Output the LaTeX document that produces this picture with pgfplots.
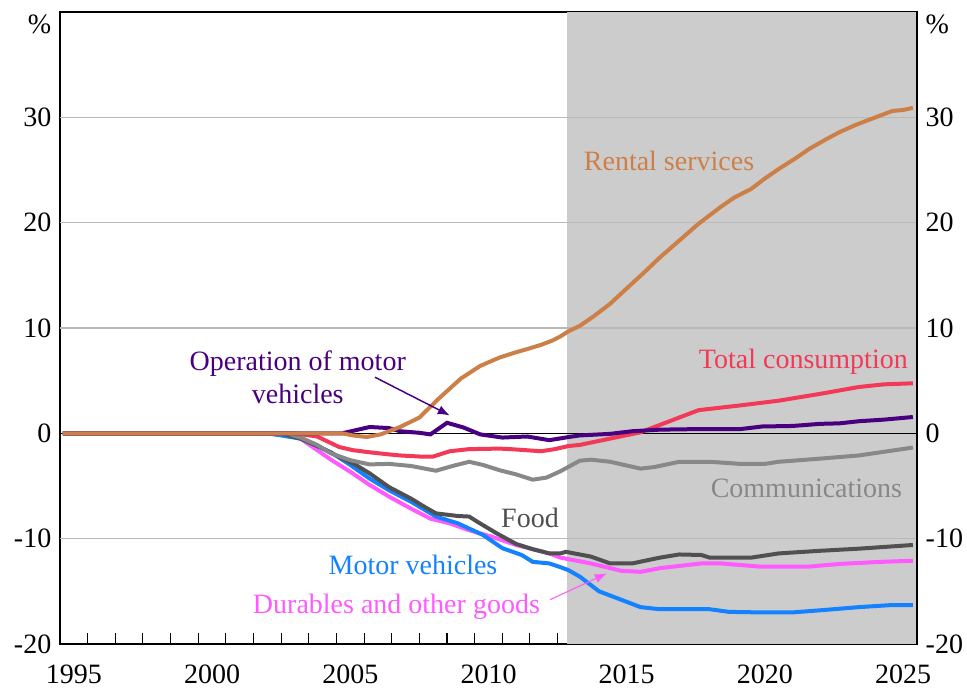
\documentclass[border=0pt]{standalone}
\usepackage{pgfplots}
\pgfplotsset{compat=1.18}
\usepackage{fontspec}
\setmainfont{Liberation Serif}
\usetikzlibrary{arrows.meta,calc}
\definecolor{rental}{RGB}{204,128,72}
\definecolor{oper}{RGB}{72,0,128}
\definecolor{total}{RGB}{242,58,88}
\definecolor{comm}{RGB}{136,136,136}
\definecolor{food}{RGB}{80,80,80}
\definecolor{dur}{RGB}{255,90,255}
\definecolor{motor}{RGB}{20,130,255}
\definecolor{shadegray}{RGB}{204,204,204}
\definecolor{gridc}{RGB}{185,185,185}
\begin{document}
\begin{tikzpicture}[font=\fontsize{21}{25}\selectfont]
\begin{axis}[name=ax,
  width=642.75pt, height=474pt, scale only axis,
  xmin=1995, xmax=2026, ymin=-20, ymax=40,
  axis line style={black, line width=0.9pt},
  xtick={1995,...,2026}, xticklabels={},
  xtick pos=bottom, tick align=inside,
  x tick style={black, line width=0.8pt}, major tick length=8pt,
  extra x ticks={1995.5,2000.5,2005.5,2010.5,2015.5,2020.5,2025.5},
  extra x tick labels={1995,2000,2005,2010,2015,2020,2025},
  extra x tick style={major tick length=0pt, xticklabel style={yshift=-12pt}},
  ytick={-20,-10,0,10,20,30,38.8},
  yticklabels={-20,-10,0,10,20,30,\%},
  ytick pos=left, y tick style={draw=none},
  yticklabel style={xshift=-3pt},
  clip=true,
]
\fill[shadegray] (axis cs:2013.35,-20) rectangle (axis cs:2026,40);
\draw[gridc, line width=0.8pt] (axis cs:1995,-10) -- (axis cs:2026,-10);
\draw[gridc, line width=0.8pt] (axis cs:1995,10) -- (axis cs:2026,10);
\draw[gridc, line width=0.8pt] (axis cs:1995,20) -- (axis cs:2026,20);
\draw[gridc, line width=0.8pt] (axis cs:1995,30) -- (axis cs:2026,30);
\draw[black, line width=0.8pt] (axis cs:1995,0) -- (axis cs:2026,0);

% Durables and other goods
\addplot[dur, line width=3pt] coordinates {
(1995.1,0) (2002.8,0) (2003.7,-0.5) (2004.8,-2.5) (2005.5,-3.65) (2006.2,-4.9) (2006.9,-6.0) (2007.7,-7.15) (2008.4,-8.1) (2009.1,-8.55) (2009.8,-9.2) (2010.6,-9.8) (2011.5,-10.6) (2012.7,-11.4) (2013.1,-11.8) (2014.2,-12.35) (2015.3,-13.05) (2016.0,-13.15) (2016.7,-12.8) (2018.2,-12.35) (2018.9,-12.35) (2020.3,-12.65) (2022.1,-12.65) (2023.2,-12.4) (2024.7,-12.2) (2025.85,-12.1)};
% Motor vehicles
\addplot[motor, line width=3pt] coordinates {
(1995.1,0) (2002.5,0) (2003.0,-0.2) (2003.7,-0.5) (2004.8,-1.8) (2005.5,-3.0) (2006.2,-4.3) (2006.9,-5.4) (2007.7,-6.5) (2008.6,-7.9) (2009.4,-8.55) (2010.3,-9.65) (2011.0,-10.9) (2011.7,-11.55) (2012.1,-12.2) (2012.7,-12.35) (2013.1,-12.7) (2013.4,-13.0) (2013.8,-13.6) (2014.5,-15.0) (2015.3,-15.8) (2016.0,-16.5) (2016.7,-16.7) (2018.5,-16.7) (2019.2,-16.95) (2020.3,-17.0) (2021.5,-17.0) (2022.5,-16.8) (2023.9,-16.5) (2025.1,-16.3) (2025.85,-16.3)};
% Food
\addplot[food, line width=3pt] coordinates {
(1995.1,0) (2003.0,0) (2003.7,-0.5) (2004.4,-1.3) (2005.1,-2.25) (2005.7,-3.0) (2006.2,-3.8) (2006.9,-5.1) (2007.7,-6.2) (2008.2,-7.0) (2008.6,-7.6) (2009.4,-7.85) (2009.8,-7.9) (2010.1,-8.4) (2010.8,-9.5) (2011.5,-10.5) (2012.1,-11.0) (2012.7,-11.4) (2013.1,-11.4) (2013.3,-11.25) (2014.2,-11.7) (2014.9,-12.35) (2015.7,-12.35) (2016.7,-11.8) (2017.4,-11.5) (2018.2,-11.55) (2018.5,-11.8) (2020.0,-11.8) (2021.0,-11.4) (2022.5,-11.15) (2023.9,-10.95) (2025.85,-10.6)};
% Communications
\addplot[comm, line width=3pt] coordinates {
(1995.1,0) (2003.2,0) (2003.7,-0.4) (2004.3,-1.1) (2004.8,-1.9) (2005.5,-2.55) (2006.2,-2.95) (2006.9,-2.9) (2007.7,-3.1) (2008.6,-3.55) (2009.2,-3.1) (2009.8,-2.7) (2010.3,-3.0) (2010.9,-3.5) (2011.5,-3.9) (2012.1,-4.4) (2012.6,-4.2) (2013.1,-3.6) (2013.8,-2.6) (2014.2,-2.5) (2014.9,-2.7) (2016.0,-3.35) (2016.5,-3.2) (2017.4,-2.7) (2018.5,-2.7) (2019.6,-2.9) (2020.5,-2.9) (2021.0,-2.7) (2022.5,-2.4) (2023.9,-2.1) (2025.85,-1.35)};
% Total consumption
\addplot[total, line width=3pt] coordinates {
(1995.1,0) (2003.5,0) (2004.3,-0.3) (2005.1,-1.3) (2005.6,-1.6) (2006.2,-1.8) (2006.9,-2.0) (2007.3,-2.1) (2008.0,-2.2) (2008.5,-2.2) (2009.1,-1.7) (2009.8,-1.5) (2010.9,-1.45) (2011.3,-1.5) (2012.4,-1.7) (2012.9,-1.5) (2013.4,-1.2) (2013.8,-1.1) (2014.9,-0.5) (2016.0,0.1) (2017.1,1.2) (2018.1,2.2) (2019.6,2.65) (2021.0,3.1) (2022.5,3.75) (2023.9,4.4) (2024.8,4.65) (2025.85,4.75)};
% Operation of motor vehicles
\addplot[oper, line width=3pt] coordinates {
(1995.1,0) (2005.2,0) (2005.7,0.3) (2006.2,0.6) (2006.9,0.5) (2007.3,0.2) (2008.0,0.05) (2008.4,-0.1) (2009.0,1.0) (2009.6,0.55) (2010.2,-0.1) (2011.0,-0.4) (2011.9,-0.3) (2012.7,-0.65) (2013.4,-0.35) (2013.8,-0.2) (2014.9,-0.05) (2015.7,0.2) (2016.7,0.35) (2018.0,0.4) (2019.6,0.4) (2020.4,0.65) (2021.5,0.7) (2022.5,0.9) (2023.2,0.95) (2023.9,1.15) (2024.8,1.3) (2025.85,1.55)};
% Rental services
\addplot[rental, line width=3pt] coordinates {
(1995.1,0) (2003,0) (2005.2,0) (2005.6,-0.2) (2006.1,-0.35) (2006.6,-0.1) (2007.3,0.6) (2008.0,1.5) (2008.7,3.3) (2009.5,5.2) (2010.2,6.4) (2010.9,7.2) (2011.5,7.7) (2011.9,8.0) (2012.4,8.4) (2012.8,8.8) (2013.1,9.2) (2013.4,9.7) (2013.8,10.2) (2014.3,11.1) (2014.9,12.3) (2015.6,14.0) (2016.1,15.2) (2016.7,16.7) (2017.4,18.3) (2018.1,19.9) (2018.9,21.5) (2019.4,22.4) (2020.0,23.2) (2020.5,24.2) (2021.0,25.1) (2021.6,26.1) (2022.1,27.0) (2022.7,27.9) (2023.2,28.6) (2023.8,29.3) (2024.3,29.8) (2024.7,30.2) (2025.1,30.6) (2025.5,30.7) (2025.85,30.9)};

\node[rental] at (axis cs:2017.03,25.9) {Rental services};
\node[oper, align=center, inner sep=0pt] at (axis cs:2003.6,5.3) {Operation of motor\\vehicles};
\draw[oper, line width=1.1pt, -{Latex[length=9pt,width=7pt]}] (axis cs:2006.39,5.33) -- (axis cs:2009.1,1.7);
\node[total] at (axis cs:2021.89,6.8) {Total consumption};
\node[comm] at (axis cs:2022.0,-5.2) {Communications};
\node[food] at (axis cs:2012.0,-8.0) {Food};
\node[motor] at (axis cs:2007.77,-12.5) {Motor vehicles};
\node[dur] at (axis cs:2007.17,-16.5) {Durables and other goods};
\draw[dur, line width=0.8pt, -{Latex[length=9pt,width=7pt]}] (axis cs:2012.72,-15.8) -- (axis cs:2014.78,-13.3);
\end{axis}
\begin{axis}[
  width=642.75pt, height=474pt, scale only axis,
  xmin=1995, xmax=2026, ymin=-20, ymax=40,
  axis x line=none, axis y line*=right,
  axis line style={black, line width=0.9pt},
  ytick={-20,-10,0,10,20,30,38.8},
  yticklabels={-20,-10,0,10,20,30,\%},
  y tick style={draw=none},
  yticklabel style={xshift=3pt},
]
\end{axis}
\pgfresetboundingbox
\path[use as bounding box] ($(ax.south west)+(-45pt,-33.75pt)$) rectangle ($(ax.north east)+(37.5pt,9pt)$);
\end{tikzpicture}
\end{document}
